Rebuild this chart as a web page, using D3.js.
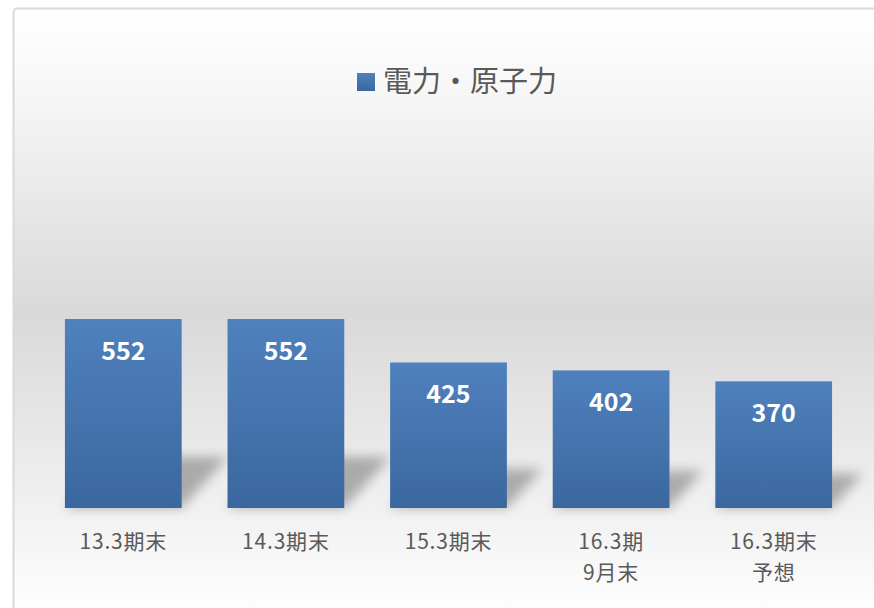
<!DOCTYPE html>
<html>
<head>
<meta charset="utf-8">
<script src="https://cdn.jsdelivr.net/npm/d3@7"></script>
<style>
  body { margin: 0; background: #fff; }
  svg { display: block; }
</style>
</head>
<body>
<div id="chart"></div>
<script>
// data
const categories = [["13.3期末"], ["14.3期末"], ["15.3期末"], ["16.3期", "9月末"], ["16.3期末", "予想"]];
const values = [552, 552, 425, 402, 370];
const seriesName = "電力・原子力";

const W = 874, H = 608;
const font = "'Noto Sans CJK JP', 'Noto Sans', sans-serif";

const svg = d3.select("#chart").append("svg")
  .attr("width", W).attr("height", H);

const defs = svg.append("defs");

// chart background gradient
const bg = defs.append("linearGradient").attr("id", "bg")
  .attr("gradientUnits", "userSpaceOnUse")
  .attr("x1", 0).attr("y1", 8).attr("x2", 0).attr("y2", 620);
[[0, "#ffffff"], [0.12, "#f8f8f8"], [0.5, "#d9d9d9"], [0.82, "#f1f1f1"], [1, "#ffffff"]]
  .forEach(([o, c]) => bg.append("stop").attr("offset", o).attr("stop-color", c));

// bar gradient
const barGrad = defs.append("linearGradient").attr("id", "barGrad")
  .attr("x1", 0).attr("y1", 0).attr("x2", 0).attr("y2", 1);
barGrad.append("stop").attr("offset", 0).attr("stop-color", "#4f81bd");
barGrad.append("stop").attr("offset", 1).attr("stop-color", "#3b679f");

const blur = defs.append("filter").attr("id", "blur")
  .attr("x", "-50%").attr("y", "-50%").attr("width", "200%").attr("height", "200%");
blur.append("feGaussianBlur").attr("stdDeviation", 6);

// chart frame
svg.append("rect")
  .attr("x", 13.5).attr("y", 8.5)
  .attr("width", 900).attr("height", 700)
  .attr("rx", 4)
  .attr("fill", "url(#bg)")
  .attr("stroke", "#d9d9d9")
  .attr("stroke-width", 2);

// scales
const x = d3.scaleBand()
  .domain(categories.map((d, i) => i))
  .range([42, 855])
  .paddingInner(0.282)
  .paddingOuter(0.141);

const y = d3.scaleLinear()
  .domain([0, 552])
  .range([508, 319]);

const g = svg.append("g");

// perspective shadows
g.selectAll(".shadow").data(values).enter().append("path")
  .attr("class", "shadow")
  .attr("d", (d, i) => {
    const x0 = x(i), x1 = x(i) + x.bandwidth();
    const h = (y(0) - y(d)) * 0.27;
    const dx = h * 0.9;
    return `M${x0},${y(0)}L${x1},${y(0)}L${x1 + dx},${y(0) - h}L${x0 + dx},${y(0) - h}Z`;
  })
  .attr("fill", "#000")
  .attr("opacity", 0.28)
  .attr("filter", "url(#blur)");

// bars
g.selectAll(".bar").data(values).enter().append("rect")
  .attr("class", "bar")
  .attr("x", (d, i) => x(i))
  .attr("y", d => y(d))
  .attr("width", x.bandwidth())
  .attr("height", d => y(0) - y(d))
  .attr("fill", "url(#barGrad)");

// value labels
g.selectAll(".val").data(values).enter().append("text")
  .attr("class", "val")
  .attr("x", (d, i) => x(i) + x.bandwidth() / 2)
  .attr("y", d => y(d) + 41)
  .attr("text-anchor", "middle")
  .attr("fill", "#fff")
  .attr("font-family", font)
  .attr("font-weight", "bold")
  .attr("font-size", 25)
  .text(d => d);

// category labels
const cat = g.selectAll(".cat").data(categories).enter().append("text")
  .attr("class", "cat")
  .attr("text-anchor", "middle")
  .attr("fill", "#595959")
  .attr("font-family", font)
  .attr("font-size", 21)
  .attr("letter-spacing", 0.8);
cat.selectAll("tspan").data((d, i) => d.map(t => ({ t, i }))).enter().append("tspan")
  .attr("x", d => x(d.i) + x.bandwidth() / 2)
  .attr("y", (d, j) => 549 + j * 31)
  .text(d => d.t);

// legend
const leg = svg.append("g");
leg.append("rect")
  .attr("x", 357).attr("y", 73)
  .attr("width", 18).attr("height", 18)
  .attr("fill", "url(#barGrad)");
leg.append("text")
  .attr("x", 383).attr("y", 92)
  .attr("fill", "#595959")
  .attr("font-family", font)
  .attr("font-size", 29)
  .text(seriesName);
</script>
</body>
</html>
